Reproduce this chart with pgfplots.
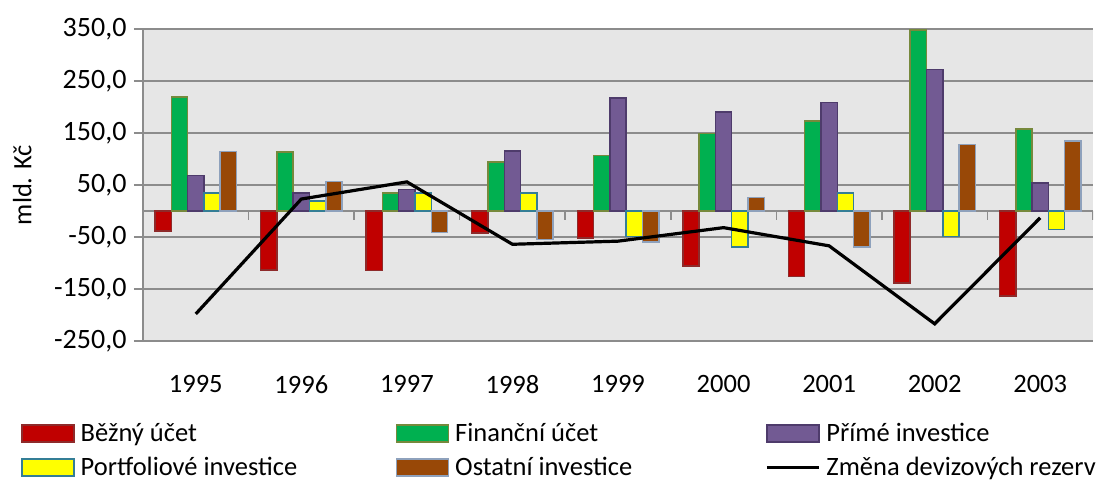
\documentclass[border=0pt]{standalone}
\usepackage{pgfplots}
\pgfplotsset{compat=1.18}
\usepackage{fontspec}
\setmainfont{Carlito}
\definecolor{cRed}{HTML}{C00000}
\definecolor{cRedB}{HTML}{8E2A2A}
\definecolor{cGreen}{HTML}{00B050}
\definecolor{cGreenB}{HTML}{76893C}
\definecolor{cPurple}{HTML}{725A93}
\definecolor{cPurpleB}{HTML}{4E3B6B}
\definecolor{cYellow}{HTML}{FFFF00}
\definecolor{cYellowB}{HTML}{347E96}
\definecolor{cBrown}{HTML}{984807}
\definecolor{cBrownB}{HTML}{8EA1BC}
\definecolor{cBg}{HTML}{E6E6E6}
\definecolor{cGrid}{HTML}{8C8C8C}
\newcommand\bigfont{\fontsize{26.5bp}{31bp}\selectfont}
\newcommand\tickfont{\fontsize{28bp}{32bp}\selectfont}
\pgfplotsset{linelegend/.style={legend image code/.code={\draw[##1] (0bp,0bp) -- (52bp,0bp);}}}
\begin{document}
\begin{tikzpicture}
\begin{axis}[
  scale only axis, width=950bp, height=312bp,
  xmin=-0.5, xmax=8.5, ymin=-250, ymax=350,
  ybar=0pt, bar width=16.3bp,
  font=\bigfont,
  tick label style={font=\bigfont},
  xtick={0,...,8},
  xticklabels={1995,1996,1997,1998,1999,2000,2001,2002,2003},
  ytick={-250,-150,-50,50,150,250,350},
  yticklabels={{-250,0},{-150,0},{-50,0},{50,0},{150,0},{250,0},{350,0}},
  axis background/.style={fill=cBg},
  ymajorgrids, grid style={draw=cGrid, line width=1.5bp},
  axis lines*=left,
  x axis line style={draw=none},
  y axis line style={draw=cGrid, line width=1.5bp},
  xtick style={draw=none},
  ytick style={draw=cGrid, line width=1.5bp},
  tick align=outside, major tick length=9bp,
  xticklabel style={yshift=-22bp},
  yticklabel style={xshift=-4bp, font=\tickfont},
  ylabel={mld. Kč},
  every axis y label/.style={at={(axis description cs:-0.127,0.5)}, rotate=90, anchor=center, font=\bigfont},
  legend columns=3,
  legend style={at={(axis description cs:-0.1284,-0.264)}, anchor=north west, draw=none, fill=none, inner sep=0pt, row sep=14bp,
    font=\bigfont,
    nodes={inner sep=0pt}, /tikz/every odd column/.append style={column sep=6bp}},
  legend cell align=left,
  legend image code/.code={\draw[#1, line width=1.5bp] (0bp,-8.5bp) rectangle (52bp,8.5bp);},
]
\draw[cGrid, line width=1.5bp] (axis cs:-0.5,0) -- (axis cs:8.5,0);
\draw[cGrid, line width=1.5bp] (axis cs:0.5,0) -- ([yshift=-9bp]axis cs:0.5,0);
\draw[cGrid, line width=1.5bp] (axis cs:1.5,0) -- ([yshift=-9bp]axis cs:1.5,0);
\draw[cGrid, line width=1.5bp] (axis cs:2.5,0) -- ([yshift=-9bp]axis cs:2.5,0);
\draw[cGrid, line width=1.5bp] (axis cs:3.5,0) -- ([yshift=-9bp]axis cs:3.5,0);
\draw[cGrid, line width=1.5bp] (axis cs:4.5,0) -- ([yshift=-9bp]axis cs:4.5,0);
\draw[cGrid, line width=1.5bp] (axis cs:5.5,0) -- ([yshift=-9bp]axis cs:5.5,0);
\draw[cGrid, line width=1.5bp] (axis cs:6.5,0) -- ([yshift=-9bp]axis cs:6.5,0);
\draw[cGrid, line width=1.5bp] (axis cs:7.5,0) -- ([yshift=-9bp]axis cs:7.5,0);
\draw[cGrid, line width=1.5bp] (axis cs:8.5,0) -- ([yshift=-9bp]axis cs:8.5,0);
\addplot[fill=cRed, draw=cRedB, line width=1.5bp] coordinates {(0,-38) (1,-113) (2,-114) (3,-42) (4,-52) (5,-106) (6,-126) (7,-138) (8,-163)};
\addlegendentry{\makebox[315bp][l]{Běžný účet}}
\addplot[fill=cGreen, draw=cGreenB, line width=1.5bp] coordinates {(0,219) (1,113) (2,35) (3,94) (4,107) (5,149) (6,173) (7,348) (8,158)};
\addlegendentry{\makebox[310bp][l]{Finanční účet}}
\addplot[fill=cPurple, draw=cPurpleB, line width=1.5bp] coordinates {(0,68) (1,35) (2,41) (3,115) (4,217) (5,190) (6,209) (7,272) (8,54)};
\addlegendentry{Přímé investice}
\addplot[fill=cYellow, draw=cYellowB, line width=1.5bp] coordinates {(0,35) (1,19) (2,35) (3,35) (4,-49) (5,-69) (6,35) (7,-49) (8,-36)};
\addlegendentry{Portfoliové investice}
\addplot[fill=cBrown, draw=cBrownB, line width=1.5bp] coordinates {(0,114) (1,57) (2,-41) (3,-55) (4,-60) (5,26) (6,-69) (7,128) (8,135)};
\addlegendentry{Ostatní investice}
\addplot[sharp plot, black, line width=3.2bp, mark=none, linelegend] coordinates {(0,-198) (1,23) (2,56) (3,-64) (4,-58) (5,-32) (6,-67) (7,-217) (8,-13)};
\addlegendentry{Změna devizových rezerv}
\coordinate (sw) at (axis cs:-0.5,-250);
\end{axis}
\useasboundingbox (sw) ++(-143bp,-142bp) rectangle ++(1100bp,483bp);
\end{tikzpicture}
\end{document}
